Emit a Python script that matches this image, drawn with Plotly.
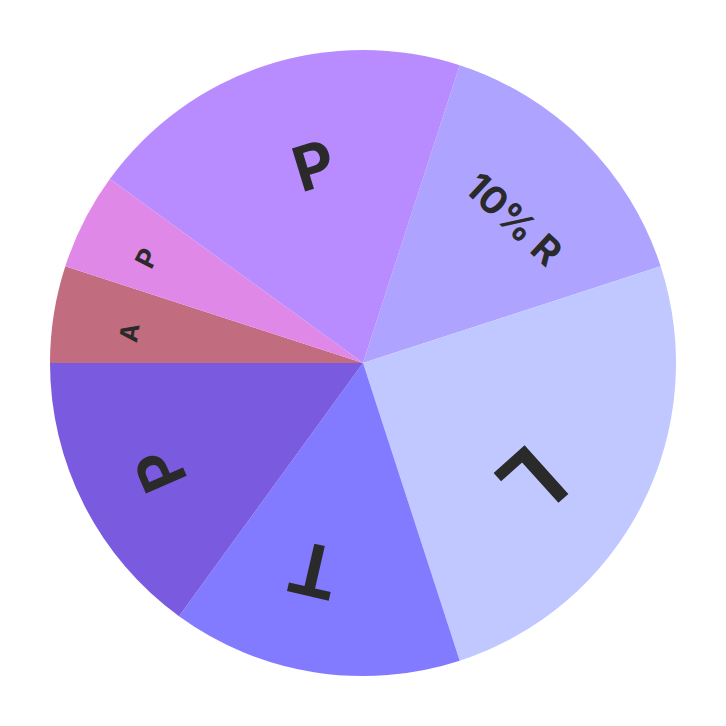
import math
import plotly.graph_objects as go

labels = ["R", "L", "T", "P1", "A", "P2", "P3"]
texts = ["10% R", "L", "T", "P", "A", "P", "P"]
values = [15, 25, 15, 15, 5, 5, 20]
colors = ["#aea4ff", "#c0c8ff", "#827aff", "#7a5ade", "#c26c80", "#e088e8", "#b88cff"]

# label styling (layout): font size, radial placement (fraction of radius),
# angular nudges (degrees) for position and for text rotation
label_sizes = [38, 90, 72, 61, 25, 27, 62]
label_radius = [0.668, 0.662, 0.683, 0.733, 0.752, 0.767, 0.649]
label_pos_nudge = [1.4, 8.4, 4.3, -0.8, -1.5, -1.0, 4.0]
label_rot_nudge = [-2, 21, 4, 3.5, 0, 0, 1]
start_angle = 18  # degrees clockwise from 12 o'clock

fig = go.Figure(go.Pie(
    labels=labels,
    values=values,
    textinfo="none",
    sort=False,
    direction="clockwise",
    rotation=start_angle,
    marker=dict(colors=colors, line=dict(width=0)),
    showlegend=False,
    hoverinfo="none",
))

total = sum(values)
cum = 0.0
annotations = []
for t, v, s, rf, pn, rn in zip(texts, values, label_sizes, label_radius,
                               label_pos_nudge, label_rot_nudge):
    mid = start_angle + (cum + v / 2) / total * 360
    cum += v
    rad = math.radians(mid + pn)
    x = 0.5 + 0.5 * rf * math.sin(rad)
    y = 0.5 + 0.5 * rf * math.cos(rad)
    ang = ((mid + rn + 180) % 360) - 180
    annotations.append(dict(
        x=x, y=y, xref="paper", yref="paper",
        text=t, showarrow=False, textangle=ang,
        xanchor="center", yanchor="middle",
        font=dict(size=s, color="#2a2a2a", family="Inter", weight="bold"),
    ))

fig.update_layout(
    width=726, height=726,
    margin=dict(l=42, r=58, t=42, b=58),
    paper_bgcolor="white",
    plot_bgcolor="white",
    annotations=annotations,
)
fig.write_html("out.html")
